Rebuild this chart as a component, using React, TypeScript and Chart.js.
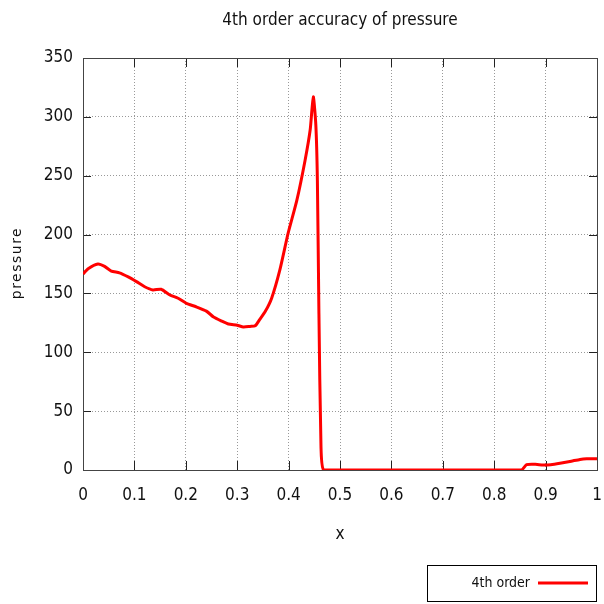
import React, { useEffect, useRef } from "react";
import { Chart, registerables } from "chart.js";

Chart.register(...registerables);

const TITLE = "4th order accuracy of pressure";
const X_LABEL = "x";
const Y_LABEL = "pressure";
const SERIES_LABEL = "4th order";

const xValues = [
  0, 0.01, 0.029, 0.042, 0.055, 0.071, 0.088, 0.104, 0.12, 0.136, 0.152, 0.169,
  0.185, 0.201, 0.22, 0.24, 0.254, 0.27, 0.283, 0.3, 0.312, 0.325, 0.335, 0.344,
  0.355, 0.367, 0.383, 0.399, 0.416, 0.432, 0.442, 0.448, 0.453, 0.456, 0.459,
  0.463, 0.468, 0.5, 0.6, 0.7, 0.8, 0.853, 0.863, 0.88, 0.895, 0.91, 0.928, 0.95,
  0.967, 0.98, 1.0,
];
const pressureValues = [
  166.5, 171, 175, 173, 169, 167.5, 164, 160, 155.7, 153, 153.5, 148.7, 145.9,
  141.6, 138.7, 135, 130, 126.5, 124, 123, 121.5, 122, 122.5, 128, 135, 146, 170,
  201, 229, 263, 289, 317, 293, 246, 133, 20, 0, 0, 0, 0, 0, 0, 4.5, 4.8, 4.2,
  4.5, 5.7, 7.5, 9, 9.5, 9.5,
];

const FONT = "'DejaVu Sans Condensed', 'DejaVu Sans', sans-serif";

const framePlugin = {
  id: "frameAndTicks",
  beforeDatasetsDraw(chart: any) {
    const { ctx, chartArea } = chart;
    const { left, right, top, bottom } = chartArea;
    const xs = chart.scales.x;
    const ys = chart.scales.y;
    ctx.save();
    ctx.strokeStyle = "#222";
    ctx.lineWidth = 1;
    ctx.beginPath();
    xs.ticks.forEach((t: any) => {
      const px = Math.round(xs.getPixelForValue(t.value)) + 0.5;
      ctx.moveTo(px, bottom);
      ctx.lineTo(px, bottom - 9);
      ctx.moveTo(px, top);
      ctx.lineTo(px, top + 9);
    });
    ys.ticks.forEach((t: any) => {
      const py = Math.round(ys.getPixelForValue(t.value)) + 0.5;
      ctx.moveTo(left, py);
      ctx.lineTo(left + 8, py);
      ctx.moveTo(right, py);
      ctx.lineTo(right - 8, py);
    });
    ctx.stroke();
    ctx.strokeStyle = "#444";
    ctx.strokeRect(left + 0.5, top + 0.5, right - left, bottom - top);
    ctx.restore();
  },
  afterDraw(chart: any) {
    const { ctx, chartArea } = chart;
    ctx.save();
    // title
    ctx.fillStyle = "#111";
    ctx.font = `17px ${FONT}`;
    ctx.textAlign = "center";
    ctx.textBaseline = "middle";
    ctx.fillText(TITLE, (chartArea.left + chartArea.right) / 2, 21);
    // y label
    ctx.save();
    ctx.translate(17, (chartArea.top + chartArea.bottom) / 2);
    ctx.rotate(-Math.PI / 2);
    ctx.font = "14px 'DejaVu Sans', sans-serif";
    (ctx as any).letterSpacing = "1.5px";
    ctx.fillText(Y_LABEL, 1, 0);
    ctx.restore();
    // legend
    const ds = chart.data.datasets[0];
    ctx.strokeStyle = "#000";
    ctx.lineWidth = 1;
    ctx.strokeRect(427.5, 565.5, 169, 36);
    ctx.font = `14px ${FONT}`;
    ctx.textAlign = "right";
    ctx.fillStyle = "#111";
    ctx.fillText(ds.label, 530, 583);
    ctx.strokeStyle = ds.borderColor;
    ctx.lineWidth = 3;
    ctx.beginPath();
    ctx.moveTo(538, 583);
    ctx.lineTo(588, 583);
    ctx.stroke();
    ctx.restore();
  },
};

export default function App() {
  const ref = useRef<HTMLCanvasElement>(null);
  useEffect(() => {
    document.body.style.margin = "0";
    const chart = new Chart(ref.current as HTMLCanvasElement, {
      type: "line",
      data: {
        datasets: [
          {
            label: SERIES_LABEL,
            data: xValues.map((x, i) => ({ x, y: pressureValues[i] })),
            borderColor: "#ff0000",
            borderWidth: 3,
            pointRadius: 0,
            tension: 0.2,
            fill: false,
          },
        ],
      },
      options: {
        animation: false,
        responsive: false,
        layout: { padding: { top: 58, left: 0, right: 7, bottom: 0 } },
        plugins: {
          legend: { display: false },
          title: { display: false },
          tooltip: { enabled: false },
        },
        scales: {
          x: {
            type: "linear",
            min: 0,
            max: 1,
            ticks: {
              stepSize: 0.1,
              color: "#111",
              font: { family: FONT, size: 17 },
              padding: 15,
              maxRotation: 0,
              callback: (v: any) => String(Math.round(Number(v) * 10) / 10),
            },
            grid: { color: "#999", drawTicks: false, lineWidth: 1 },
            border: { display: false, dash: [1, 2] },
            title: {
              display: true,
              text: X_LABEL,
              color: "#111",
              font: { family: FONT, size: 17 },
              padding: { top: 0, bottom: 59 },
            },
            afterFit(scale: any) {
              scale.height = 134;
              scale.paddingLeft = 0;
              scale.paddingRight = 0;
            },
          },
          y: {
            min: 0,
            max: 350,
            ticks: {
              stepSize: 50,
              color: "#111",
              font: { family: FONT, size: 17 },
              padding: 10,
            },
            grid: { color: "#999", drawTicks: false, lineWidth: 1 },
            border: { display: false, dash: [1, 2] },
            afterFit(scale: any) {
              scale.width = 83;
              scale.paddingTop = 0;
              scale.paddingBottom = 0;
            },
          },
        },
      },
      plugins: [framePlugin],
    });
    return () => chart.destroy();
  }, []);
  return (
    <div style={{ width: 604, height: 604 }}>
      <canvas ref={ref} width={604} height={604} />
    </div>
  );
}
